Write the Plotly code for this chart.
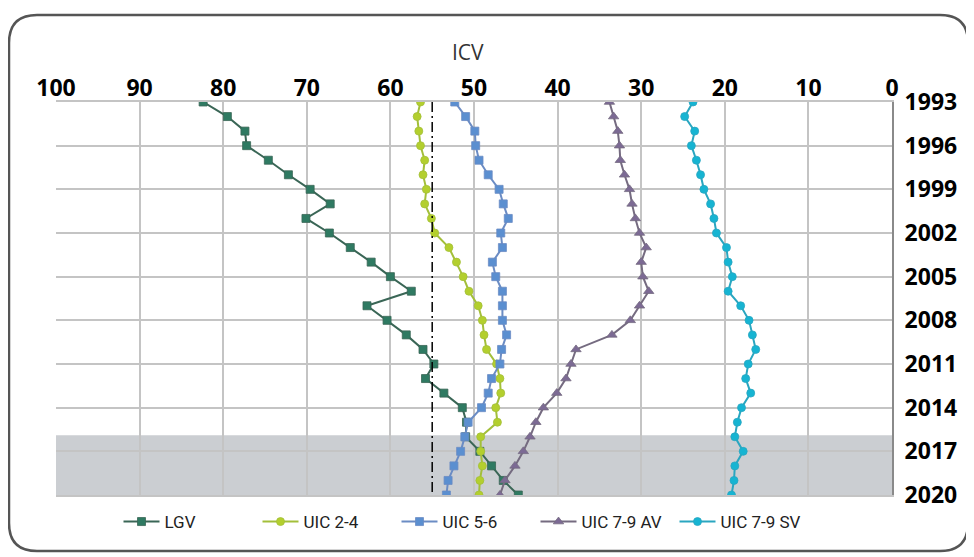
import plotly.graph_objects as go

# years on the (reversed) vertical axis
years = list(range(1993, 2021))

# ICV values per line
lgv = [82.4, 79.5, 77.4, 77.2, 74.6, 72.2, 69.6, 67.2, 70.1, 67.3,
       64.8, 62.3, 60.0, 57.5, 62.8, 60.4, 58.1, 56.1, 54.8, 55.8,
       53.6, 51.4, 50.9, 51.0, 49.3, 47.9, 46.5, 44.7]
uic_2_4 = [56.4, 56.8, 56.6, 56.4, 55.9, 56.1, 55.7, 55.9, 55.1, 54.7,
           53.0, 52.1, 51.3, 50.6, 49.5, 49.0, 48.8, 48.5, 47.3, 46.9,
           46.8, 47.4, 47.2, 49.2, 49.2, 49.0, 49.3, 49.4]
uic_5_6 = [52.3, 51.0, 49.9, 49.8, 49.4, 48.3, 47.0, 46.5, 45.9, 46.8,
           46.6, 47.8, 47.4, 46.6, 46.6, 46.6, 46.1, 46.7, 46.9, 47.9,
           48.3, 49.1, 50.7, 51.1, 51.6, 52.4, 53.1, 53.3]
uic_7_9_av = [33.8, 33.3, 32.8, 32.6, 32.5, 32.0, 31.4, 31.1, 30.7, 30.2,
              29.4, 30.0, 29.8, 29.1, 30.2, 31.3, 33.5, 37.8, 38.4, 39.0,
              40.1, 41.7, 42.6, 43.3, 44.1, 45.1, 46.3, 46.9]
uic_7_9_sv = [23.8, 24.8, 23.6, 24.0, 23.4, 22.9, 22.5, 21.7, 21.3, 21.0,
              19.8, 19.6, 19.1, 19.6, 18.1, 17.1, 16.7, 16.3, 17.2, 17.5,
              16.9, 18.0, 18.5, 18.8, 17.8, 18.8, 18.9, 19.2]

# reference line and shaded period
ref_icv = 55
shade_from = 2015.9
shade_to = 2020

series = [
    ("LGV", lgv, "#3a6656", "#2f7a62", "square"),
    ("UIC 2-4", uic_2_4, "#a3bf3a", "#b3cf2e", "circle"),
    ("UIC 5-6", uic_5_6, "#6b8cc4", "#5b8fd0", "square"),
    ("UIC 7-9 AV", uic_7_9_av, "#756b80", "#7c6a94", "triangle-up"),
    ("UIC 7-9 SV", uic_7_9_sv, "#2aa6c0", "#16b4d2", "circle"),
]

fig = go.Figure()

for name, vals, lcol, mcol, sym in series:
    fig.add_trace(go.Scatter(
        x=vals, y=years, name=name, mode="lines+markers",
        line=dict(color=lcol, width=2),
        marker=dict(symbol=sym, size=8 if sym != "triangle-up" else 9,
                    color=mcol, line=dict(color=lcol, width=0.8)),
    ))

# grey band for the recent years
fig.add_shape(type="rect", xref="x", yref="y", x0=100, x1=0,
              y0=shade_from, y1=shade_to, fillcolor="#cbced2",
              line=dict(width=0), layer="below")

# dash-dot reference line
fig.add_shape(type="line", xref="x", yref="y", x0=ref_icv, x1=ref_icv,
              y0=1993, y1=2020,
              line=dict(color="black", width=1.5, dash="10px,4px,2px,4px"))

# the page body has an 8px margin, so work in window pixels and shift
OFF = 8
FW, FH = 974 - OFF, 557 - OFF
L, T, W, H = 56 - OFF, 102 - OFF, 836, 393


def px(x):
    return (x - OFF - L) / W


def py(y):
    return (T + H - (y - OFF)) / H


# rounded frame round the whole chart
x0, y0, x1, y1, r = 9, 15, 968, 551, 28
frame = (f"M {px(x0 + r)},{py(y0)} L {px(x1 - r)},{py(y0)} "
         f"Q {px(x1)},{py(y0)} {px(x1)},{py(y0 + r)} "
         f"L {px(x1)},{py(y1 - r)} Q {px(x1)},{py(y1)} {px(x1 - r)},{py(y1)} "
         f"L {px(x0 + r)},{py(y1)} Q {px(x0)},{py(y1)} {px(x0)},{py(y1 - r)} "
         f"L {px(x0)},{py(y0 + r)} Q {px(x0)},{py(y0)} {px(x0 + r)},{py(y0)} Z")
fig.add_shape(type="path", xref="paper", yref="paper", path=frame,
              line=dict(color="#555555", width=2.5))

# axis title
fig.add_annotation(text="ICV", xref="paper", yref="paper", x=px(468), y=py(52),
                   xanchor="center", yanchor="middle", showarrow=False,
                   font=dict(family="Open Sans", size=21, color="#333333"))

tickfont = dict(family="Open Sans", size=23, color="black", weight="bold")

fig.update_xaxes(range=[100, 0], side="top", dtick=10, tick0=0,
                 showgrid=True, gridcolor="#c4c4c4", gridwidth=1.5,
                 showline=True, mirror=True, linecolor="#c4c4c4", linewidth=1.5,
                 zeroline=False, ticks="", ticklabelstandoff=-5,
                 tickfont=tickfont, automargin=False, fixedrange=True)
fig.update_yaxes(range=[2020, 1993], side="right", tickvals=list(range(1993, 2021, 3)),
                 showgrid=True, gridcolor="#c4c4c4", gridwidth=1.5,
                 showline=True, linecolor="#8a8a8a", linewidth=2,
                 zeroline=False, ticks="", ticklabelstandoff=6,
                 tickfont=tickfont, automargin=False, fixedrange=True)

fig.update_layout(
    width=FW, height=FH,
    template="none",
    paper_bgcolor="white", plot_bgcolor="white",
    margin=dict(l=L, r=FW - L - W, t=T, b=FH - T - H, pad=0),
    showlegend=True,
    legend=dict(orientation="h", x=px(466), y=py(522), xanchor="center", yanchor="middle",
                font=dict(family="Roboto", size=17, color="#222222"),
                itemwidth=36, entrywidth=88, bgcolor="rgba(0,0,0,0)"),
)

fig.write_html("out.html")
